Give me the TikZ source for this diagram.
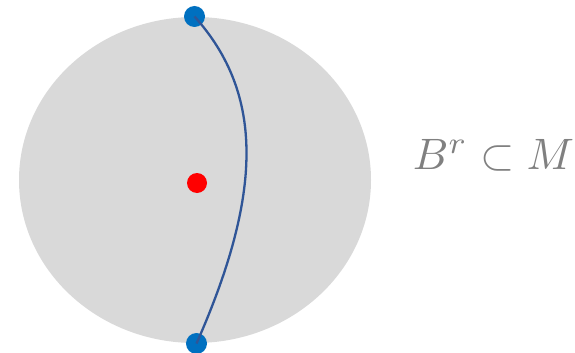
\documentclass[tikz,border=0pt]{standalone}
\usetikzlibrary{shapes.geometric}
\begin{document}
\begin{tikzpicture}[x=1pt,y=-1pt,
  dot/.style={circle,inner sep=0pt,minimum size=#1},
  lbl/.style={text=gray,inner sep=0pt,scale=4.4}]
\definecolor{ballgray}{HTML}{D9D9D9}
\definecolor{ptblue}{HTML}{0070C0}
\definecolor{pathblue}{HTML}{2F5597}
\useasboundingbox (0,0) rectangle (575,353);
\node[ellipse,fill=ballgray,minimum width=352,minimum height=326,inner sep=0pt] (ball) at (195,180) {};
\node[dot=20,fill=red] (center) at (197,183) {};
\node[dot=21,fill=ptblue] (top) at (194.5,16.5) {};
\node[dot=21,fill=ptblue] (bot) at (196.5,343.5) {};
\draw[pathblue,line width=2.3] (top.center) .. controls (265,95) and (262,195) .. (bot.center);
\node[lbl,anchor=west] (txt) at (412,155) {$B^r \subset M$};
\end{tikzpicture}
\end{document}
